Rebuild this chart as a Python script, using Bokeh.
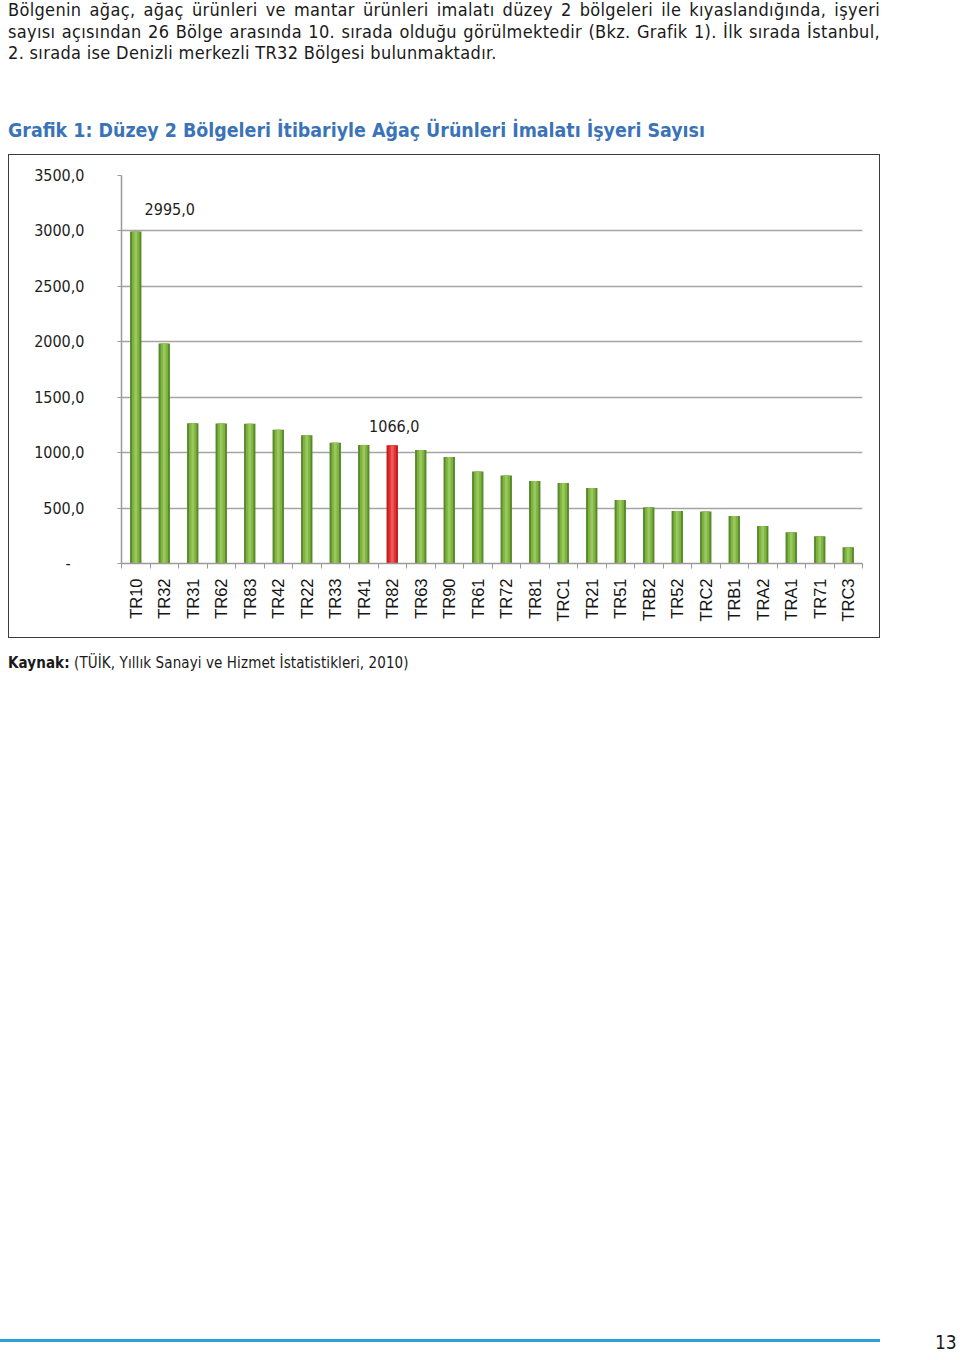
import math
from bokeh.plotting import figure
from bokeh.layouts import column
from bokeh.models import Div, ColumnDataSource, FixedTicker, Range1d
from bokeh.embed import file_html
from bokeh.resources import INLINE

# ---------------- data ----------------
categories = ["TR10", "TR32", "TR31", "TR62", "TR83", "TR42", "TR22", "TR33", "TR41",
              "TR82", "TR63", "TR90", "TR61", "TR72", "TR81", "TRC1", "TR21", "TR51",
              "TRB2", "TR52", "TRC2", "TRB1", "TRA2", "TRA1", "TR71", "TRC3"]
values = [2995, 1985, 1265, 1263, 1260, 1207, 1158, 1090, 1070, 1066, 1024, 960, 829,
          793, 744, 726, 681, 573, 507, 474, 468, 429, 339, 282, 246, 147]
highlight = "TR82"
labelled = ["TR10", "TR82"]
y_ticks = [0, 500, 1000, 1500, 2000, 2500, 3000, 3500]

paragraph = [
    "Bölgenin ağaç, ağaç ürünleri ve mantar ürünleri imalatı düzey 2 bölgeleri ile kıyaslandığında, işyeri",
    "sayısı açısından 26 Bölge arasında 10. sırada olduğu görülmektedir (Bkz. Grafik 1). İlk sırada İstanbul,",
    "2. sırada ise Denizli merkezli TR32 Bölgesi bulunmaktadır.",
]
chart_title = "Grafik 1: Düzey 2 Bölgeleri İtibariyle Ağaç Ürünleri İmalatı İşyeri Sayısı"
source_label = "Kaynak:"
source_text = "(TÜİK, Yıllık Sanayi ve Hizmet İstatistikleri, 2010)"
page_number = "13"

# ---------------- styles ----------------
COND = "DejaVu Sans Condensed, DejaVu Sans"
CSS_COND = "'DejaVu Sans Condensed','DejaVu Sans',sans-serif"
label_offsets = {"TR10": (34, -22), "TR82": (2, -19)}


def fmt(v):
    return f"{v:.1f}".replace(".", ",")


idx = list(range(len(categories)))
outer = ["#c21d1d" if c == highlight else "#5a8a2c" for c in categories]
mid = ["#e23434" if c == highlight else "#7fb342" for c in categories]
inner = ["#f05a5a" if c == highlight else "#99c95c" for c in categories]
src = ColumnDataSource(dict(x=idx, top=values, outer=outer, mid=mid, inner=inner))

lab_x = [categories.index(c) for c in labelled]
lab_y = [values[i] for i in lab_x]
lab_src = ColumnDataSource(dict(
    x=lab_x, y=lab_y, text=[fmt(v) for v in lab_y],
    xo=[label_offsets[c][0] for c in labelled],
    yo=[label_offsets[c][1] for c in labelled]))

# ---------------- figure ----------------
p = figure(width=872, height=484, output_backend="svg", toolbar_location=None,
           x_range=Range1d(-0.5, len(categories) - 0.5), y_range=Range1d(0, 3500),
           min_border_left=112, min_border_right=19, min_border_top=20, min_border_bottom=76,
           margin=(0, 0, 0, 8), styles={"border": "1px solid #3c3c3c", "box-sizing": "border-box"})
p.outline_line_color = None
p.background_fill_color = "white"
p.border_fill_color = "white"

p.vbar(x="x", top="top", width=0.40, bottom=0, fill_color="outer", line_color=None, source=src)
p.vbar(x="x", top="top", width=0.26, bottom=0, fill_color="mid", line_color=None, source=src)
p.vbar(x="x", top="top", width=0.10, bottom=0, fill_color="inner", line_color=None, source=src)

p.text(x="x", y="y", text="text", x_offset="xo", y_offset="yo", source=lab_src,
       text_align="center", text_baseline="alphabetic", text_font_size="16px",
       text_font={"value": COND}, text_color="#1e1e1e")

# x axis
p.xaxis.ticker = FixedTicker(ticks=idx, minor_ticks=[i - 0.5 for i in range(len(categories) + 1)])
p.xaxis.major_label_overrides = {i: c for i, c in enumerate(categories)}
p.xaxis.major_label_orientation = math.pi / 2
p.xaxis.major_label_text_font = "Liberation Sans"
p.xaxis.major_label_text_font_size = "16.5px"
p.xaxis.major_label_text_color = "#141414"
p.xaxis.major_label_standoff = 10
p.xaxis.major_tick_line_color = None
p.xaxis.major_tick_out = 0
p.xaxis.major_tick_in = 0
p.xaxis.minor_tick_out = 5
p.xaxis.minor_tick_in = 0
p.xaxis.minor_tick_line_color = "#9a9a9a"
p.xaxis.axis_line_color = "#9a9a9a"
p.xaxis.axis_line_width = 1.5
p.xgrid.grid_line_color = None

# y axis
p.yaxis.ticker = FixedTicker(ticks=y_ticks, minor_ticks=[])
p.yaxis.major_label_overrides = {t: ("-\u00a0\u00a0\u00a0" if t == 0 else fmt(t)) for t in y_ticks}
p.yaxis.major_label_text_font = COND
p.yaxis.major_label_text_font_size = "16px"
p.yaxis.major_label_text_color = "#1e1e1e"
p.yaxis.major_label_standoff = 33
p.yaxis.major_tick_out = 4
p.yaxis.major_tick_in = 0
p.yaxis.major_tick_line_color = "#9a9a9a"
p.yaxis.axis_line_color = "#9a9a9a"
p.yaxis.axis_line_width = 1.5
p.ygrid.grid_line_color = "#a4a4a4"
p.ygrid.grid_line_width = 1.6

# ---------------- text blocks ----------------
top_html = (
    f'<div style="position:relative;width:960px;height:154px;font-family:{CSS_COND};color:#1a1a1a;">'
    f'<div style="position:absolute;left:8px;top:-1px;width:872px;font-size:18px;letter-spacing:0.33px;line-height:21.7px;">'
    f'<div style="text-align:justify;text-align-last:justify;white-space:nowrap;">{paragraph[0]}</div>'
    f'<div style="text-align:justify;text-align-last:justify;white-space:nowrap;">{paragraph[1]}</div>'
    f'<div style="white-space:nowrap;">{paragraph[2]}</div></div>'
    f'<div style="position:absolute;left:8px;top:117px;font-size:19.4px;font-weight:bold;'
    f'color:#3b73b9;white-space:nowrap;">{chart_title}</div></div>'
)
top_div = Div(text=top_html, width=960, height=154, margin=0)

mid_html = (
    f'<div style="position:relative;width:960px;height:692px;font-family:{CSS_COND};color:#1a1a1a;">'
    f'<div style="position:absolute;left:8px;top:15px;font-size:15px;letter-spacing:0.1px;white-space:nowrap;">'
    f'<b>{source_label}</b> {source_text}</div></div>'
)
mid_div = Div(text=mid_html, width=960, height=692, margin=0)

foot_html = (
    f'<div style="position:relative;width:960px;height:30px;font-family:{CSS_COND};color:#1a1a1a;">'
    f'<div style="position:absolute;left:0px;top:9px;width:880px;height:2.5px;background:#2ba0d8;"></div>'
    f'<div style="position:absolute;left:935px;top:3px;font-size:19px;line-height:1;">{page_number}</div></div>'
)
foot_div = Div(text=foot_html, width=960, height=30, margin=0)

layout = column(top_div, p, mid_div, foot_div, spacing=0, margin=0)

open("out.html", "w").write(file_html(layout, INLINE))
